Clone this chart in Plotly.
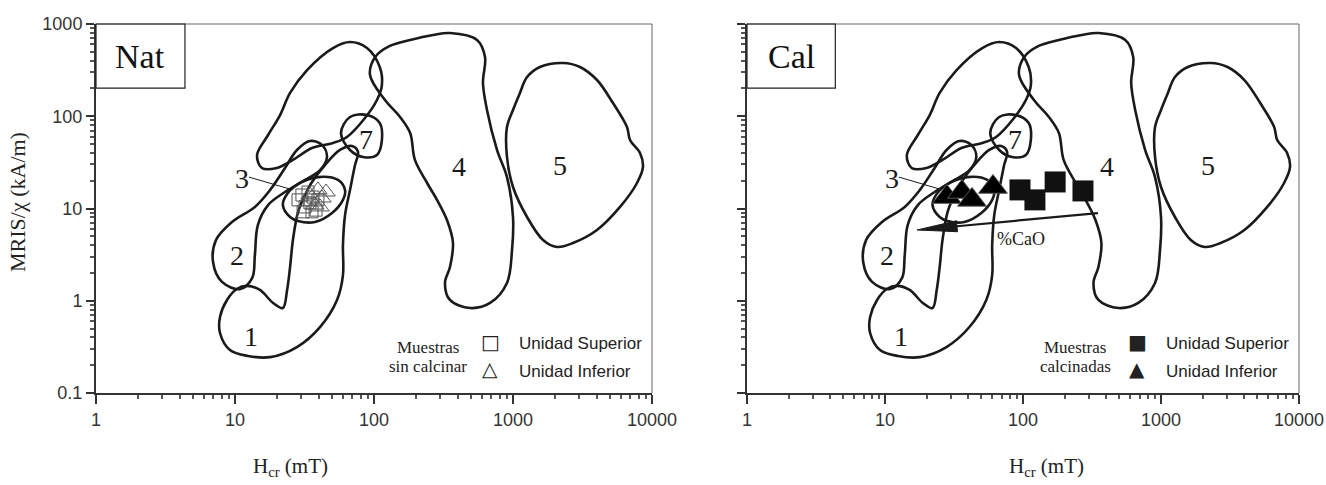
import numpy as np
import plotly.graph_objects as go

# ---------------- data ----------------
hcr_ticks = [1, 10, 100, 1000, 10000]
hcr_ticktext = ["1", "10", "100", "1000", "10000"]
ratio_ticks = [0.1, 1, 10, 100, 1000]
ratio_ticktext = ["0.1", "1", "10", "100", "1000"]

# region outlines (Hcr in mT, MRIS/chi in kA/m)
region1_hcr = [22.1, 23.7, 24.9, 26.1, 28.4, 31.9, 35.8, 44.4, 56.9, 69.5, 76.7, 73.0, 67.2, 61.9,
               59.8, 59.8, 54.2, 40.9, 27.9, 17.9, 12.4, 9.2, 7.8, 7.8, 8.76, 10.3, 12.2, 15.1, 18.8]
region1_ratio = [0.834, 1.31, 2.32, 4.56, 9.16, 14.0, 19.4, 29.6, 43.1, 47.6, 41.0, 29.6, 15.9, 8.5,
                 4.02, 1.90, 1.02, 0.519, 0.315, 0.245, 0.252, 0.292, 0.447, 0.667, 1.02, 1.34, 1.45, 1.31, 0.946]

region2_hcr = [6.95, 7.30, 9.51, 13.9, 17.9, 22.9, 27.9, 34.6, 42.3, 45.9, 40.9, 31.9, 22.9, 17.3,
               14.6, 13.9, 13.3, 10.9, 8.06]
region2_ratio = [2.63, 4.56, 7.14, 10.4, 15.9, 27.5, 43.1, 53.9, 48.8, 36.2, 26.1, 20.4, 15.1, 10.9,
                 6.62, 3.13, 1.77, 1.34, 1.60]

region3_hcr = [22.1, 24.9, 28.4, 37.6, 49.9, 59.8, 61.9, 55.1, 39.5, 28.4, 23.7]
region3_ratio = [10.9, 8.09, 7.32, 7.14, 8.94, 12.4, 15.9, 20.4, 21.9, 18.4, 14.4]

region4_hcr = [93.6, 102, 130, 182, 266, 352, 551, 629, 608, 650, 767, 905, 1000, 984, 905, 684,
               491, 352, 324, 352, 370, 335, 284, 241, 197, 182, 154, 120]
region4_ratio = [280, 439, 578, 671, 760, 798, 671, 439, 229, 117, 43.1, 21.9, 8.09, 3.55, 1.56, 0.946,
                 0.834, 1.02, 1.56, 2.32, 4.23, 7.50, 12.4, 18.9, 33.6, 65.8, 98.2, 150]

region5_hcr = [1122, 1262, 1564, 2290, 3034, 4021, 5239, 6607, 6950, 8200, 8611, 7800, 5888, 4021,
               2702, 2074, 1644, 1262, 1000, 905, 905, 1000]
region5_ratio = [179, 266, 342, 378, 342, 247, 139, 76.4, 55.3, 40.0, 28.2, 18.9, 10.4, 5.85,
                 4.23, 3.83, 4.56, 8.09, 17.1, 36.2, 76.4, 117]

region6_hcr = [14.4, 15.6, 20.0, 26.1, 35.8, 50.7, 63.9, 86.1, 105, 114, 110, 89.1, 67.2, 50.7,
               33.0, 24.9, 21.1, 17.3]
region6_ratio = [38.0, 27.5, 27.5, 33.6, 45.3, 51.3, 59.6, 95.7, 150, 218, 342, 549, 638, 549,
                 317, 179, 103, 62.6]

region7_hcr = [57.9, 67.2, 89.1, 110, 114, 105, 83.4, 67.2]
region7_ratio = [65.8, 98.2, 103, 84.5, 55.3, 38.0, 36.2, 43.1]

region_labels = ["1", "2", "3", "4", "5", "7"]
label_hcr = [13.0, 10.3, 11.2, 409, 2178, 87.5]
label_ratio = [0.405, 3.13, 21.4, 28.2, 29.6, 55.3]
leader3_hcr = [12.6, 26.1]
leader3_ratio = [21.9, 15.9]

# samples, not calcined (Nat)
nat_sup_hcr = [28.4, 30.3, 31.9, 33.5, 34.6, 36.4, 38.3, 39.5, 30.9, 35.8]
nat_sup_ratio = [12.4, 14.0, 10.4, 15.1, 11.5, 13.3, 9.6, 12.4, 9.2, 9.2]
nat_inf_hcr = [34.6, 39.5, 42.2, 45.2, 37.6, 40.9]
nat_inf_ratio = [14.0, 15.9, 13.0, 15.1, 10.9, 10.4]

# calcined samples (Cal)
cal_sup_hcr = [95.1, 122, 171, 272]
cal_sup_ratio = [15.9, 12.4, 19.4, 15.5]
cal_inf_hcr = [28.1, 36.1, 42.7, 60.6]
cal_inf_ratio = [13.3, 15.1, 12.4, 17.1]

# %CaO arrow (tail, tip) and its label position
cao_arrow_hcr = [349, 17.1]
cao_arrow_ratio = [8.93, 5.85]
cao_label_hcr = 97.0
cao_label_ratio = 4.67

# ---------------- layout constants ----------------
W, H = 1326, 485
dom_x1 = [96 / W, 652 / W]
dom_x2 = [747 / W, 1299 / W]
dom_y = [(H - 393) / H, (H - 24) / H]
LINE = "#1a1a1a"
SERIF = "Liberation Serif, Times New Roman, serif"
SANS = "Liberation Sans, Arial, sans-serif"

regions = [
    (region1_hcr, region1_ratio), (region2_hcr, region2_ratio), (region3_hcr, region3_ratio),
    (region4_hcr, region4_ratio), (region5_hcr, region5_ratio), (region6_hcr, region6_ratio),
    (region7_hcr, region7_ratio),
]

fig = go.Figure()


def note(**kw):
    kw.setdefault("xanchor", "center")
    kw.setdefault("yanchor", "middle")
    kw.setdefault("showarrow", False)
    fig.add_annotation(**kw)


for xa, ya in [("x", "y"), ("x2", "y2")]:
    for rx, ry in regions:
        fig.add_trace(go.Scatter(
            x=list(rx) + [rx[0]], y=list(ry) + [ry[0]], mode="lines",
            line=dict(color=LINE, width=2.6, shape="spline", smoothing=1.0),
            xaxis=xa, yaxis=ya, showlegend=False, hoverinfo="skip"))
    fig.add_trace(go.Scatter(
        x=leader3_hcr, y=leader3_ratio, mode="lines", line=dict(color=LINE, width=1),
        xaxis=xa, yaxis=ya, showlegend=False, hoverinfo="skip"))
    for t, hx, hy in zip(region_labels, label_hcr, label_ratio):
        note(x=np.log10(hx), y=np.log10(hy), xref=xa, yref=ya, text=t,
             font=dict(family=SERIF, size=28, color=LINE))

# Nat samples
fig.add_trace(go.Scatter(x=nat_sup_hcr, y=nat_sup_ratio, mode="markers",
                         marker=dict(symbol="square-open", size=12, color="#555", line=dict(width=1)),
                         xaxis="x", yaxis="y", showlegend=False))
fig.add_trace(go.Scatter(x=nat_inf_hcr, y=nat_inf_ratio, mode="markers",
                         marker=dict(symbol="triangle-up-open", size=16, color="#555", line=dict(width=1)),
                         xaxis="x", yaxis="y", showlegend=False))

# Cal samples
fig.add_trace(go.Scatter(x=cal_sup_hcr, y=cal_sup_ratio, mode="markers",
                         marker=dict(symbol="square", size=21, color="#111", line=dict(width=0)),
                         xaxis="x2", yaxis="y2", showlegend=False))
fig.add_trace(go.Scatter(x=cal_inf_hcr, y=cal_inf_ratio, mode="markers",
                         marker=dict(symbol="triangle-up", size=25, color="#000", line=dict(width=1, color="#555")),
                         xaxis="x2", yaxis="y2", showlegend=False))

# %CaO arrow: shaft + long thin head computed from the data
pxx = W * (dom_x2[1] - dom_x2[0]) / 4.0
pxy = H * (dom_y[1] - dom_y[0]) / 4.0
tx, ty = np.log10(cao_arrow_hcr[0]), np.log10(cao_arrow_ratio[0])
hx, hy = np.log10(cao_arrow_hcr[1]), np.log10(cao_arrow_ratio[1])
dxp, dyp = (tx - hx) * pxx, (ty - hy) * pxy
ln = np.hypot(dxp, dyp)
ux, uy = dxp / ln, dyp / ln
nx, ny = -uy, ux
head_len, head_hw = 40.0, 5.5
bx, by = head_len * ux, head_len * uy
c1 = (hx + (bx + nx * head_hw) / pxx, hy + (by + ny * head_hw) / pxy)
c2 = (hx + (bx - nx * head_hw) / pxx, hy + (by - ny * head_hw) / pxy)
base = (hx + bx / pxx, hy + by / pxy)
fig.add_trace(go.Scatter(x=[10 ** tx, 10 ** base[0]], y=[10 ** ty, 10 ** base[1]], mode="lines",
                         line=dict(color=LINE, width=2.2), xaxis="x2", yaxis="y2",
                         showlegend=False, hoverinfo="skip"))
fig.add_trace(go.Scatter(x=[10 ** hx, 10 ** c1[0], 10 ** c2[0], 10 ** hx],
                         y=[10 ** hy, 10 ** c1[1], 10 ** c2[1], 10 ** hy],
                         mode="lines", fill="toself", fillcolor=LINE, line=dict(color=LINE, width=1),
                         xaxis="x2", yaxis="y2", showlegend=False, hoverinfo="skip"))
note(x=np.log10(cao_label_hcr), y=np.log10(cao_label_ratio), xref="x2", yref="y2", text="%CaO",
     font=dict(family=SERIF, size=18, color=LINE))


# axes
def xaxis_cfg(domain, anchor):
    return dict(type="log", range=[0, 4], domain=domain, anchor=anchor, automargin=False,
                tickvals=hcr_ticks, ticktext=hcr_ticktext, ticks="outside", ticklen=9,
                tickwidth=1.5, tickcolor="#333", showgrid=False, zeroline=False,
                showline=True, linecolor="#333", linewidth=2,
                minor=dict(ticks="outside", ticklen=4, tickcolor="#555", dtick="D1", showgrid=False),
                tickfont=dict(family=SANS, size=18, color="#333"))


def yaxis_cfg(domain, anchor, labels):
    return dict(type="log", range=[-1, 3], domain=domain, anchor=anchor, automargin=False,
                tickvals=ratio_ticks, ticktext=ratio_ticktext, ticks="outside", ticklen=8,
                tickwidth=1.5, tickcolor="#333", showgrid=False, zeroline=False,
                showline=True, linecolor="#333", linewidth=2, showticklabels=labels,
                minor=dict(ticks="outside", ticklen=4, tickcolor="#555", dtick="D1", showgrid=False),
                tickfont=dict(family=SANS, size=18, color="#333"))


fig.update_layout(
    template="none",
    width=W, height=H, margin=dict(l=0, r=0, t=0, b=0, pad=0, autoexpand=False),
    paper_bgcolor="white", plot_bgcolor="white", showlegend=False,
    xaxis=xaxis_cfg(dom_x1, "y"), yaxis=yaxis_cfg(dom_y, "x", True),
    xaxis2=xaxis_cfg(dom_x2, "y2"), yaxis2=yaxis_cfg(dom_y, "x2", False),
)

# frame (thin top/right) and Nat / Cal boxes
for xr, yr, name in [("x domain", "y domain", "Nat"), ("x2 domain", "y2 domain", "Cal")]:
    fig.add_shape(type="line", xref=xr, yref=yr, x0=0, x1=1, y0=1, y1=1, line=dict(color="#666", width=1))
    fig.add_shape(type="line", xref=xr, yref=yr, x0=1, x1=1, y0=0, y1=1, line=dict(color="#666", width=1))
    fig.add_shape(type="rect", xref=xr, yref=yr, x0=0, x1=0.16, y0=0.826, y1=1,
                  line=dict(color="#222", width=1.2))
    note(xref=xr, yref=yr, x=0.08, y=0.913, text=name, font=dict(family=SERIF, size=34, color="#111"))

# axis titles
note(xref="paper", yref="paper", x=18 / W, y=(H - 202) / H, text="MRIS/χ (kA/m)",
     textangle=-90, font=dict(family=SERIF, size=22, color="#222"))
for cx in [290, 1046]:
    note(xref="paper", yref="paper", x=cx / W, y=(H - 467) / H, text="H<sub>cr</sub> (mT)",
         font=dict(family=SERIF, size=21, color="#222"))


# legends
def legend(cx_text, lines, mx, sym_sup, sym_inf, tx_left):
    for i, t in enumerate(lines):
        note(xref="paper", yref="paper", x=cx_text / W, y=(H - (347 + 19 * i)) / H,
             text=t, font=dict(family=SERIF, size=17, color="#222"))
    note(xref="paper", yref="paper", x=mx / W, y=(H - 342) / H, text=sym_sup,
         font=dict(family="DejaVu Sans", size=20, color="#222"))
    note(xref="paper", yref="paper", x=mx / W, y=(H - 369) / H, text=sym_inf,
         font=dict(family="DejaVu Sans", size=20, color="#222"))
    note(xref="paper", yref="paper", x=tx_left / W, y=(H - 344) / H, text="Unidad Superior",
         xanchor="left", font=dict(family=SANS, size=17, color="#222"))
    note(xref="paper", yref="paper", x=tx_left / W, y=(H - 371) / H, text="Unidad Inferior",
         xanchor="left", font=dict(family=SANS, size=17, color="#222"))


legend(428, ["Muestras", "sin calcinar"], 490, "□", "△", 517)
legend(1075, ["Muestras", "calcinadas"], 1137, "■", "▲", 1164)

fig.write_html("out.html", config={"displayModeBar": False},
               post_script="document.body.style.margin='0px';document.body.style.overflow='hidden';")
